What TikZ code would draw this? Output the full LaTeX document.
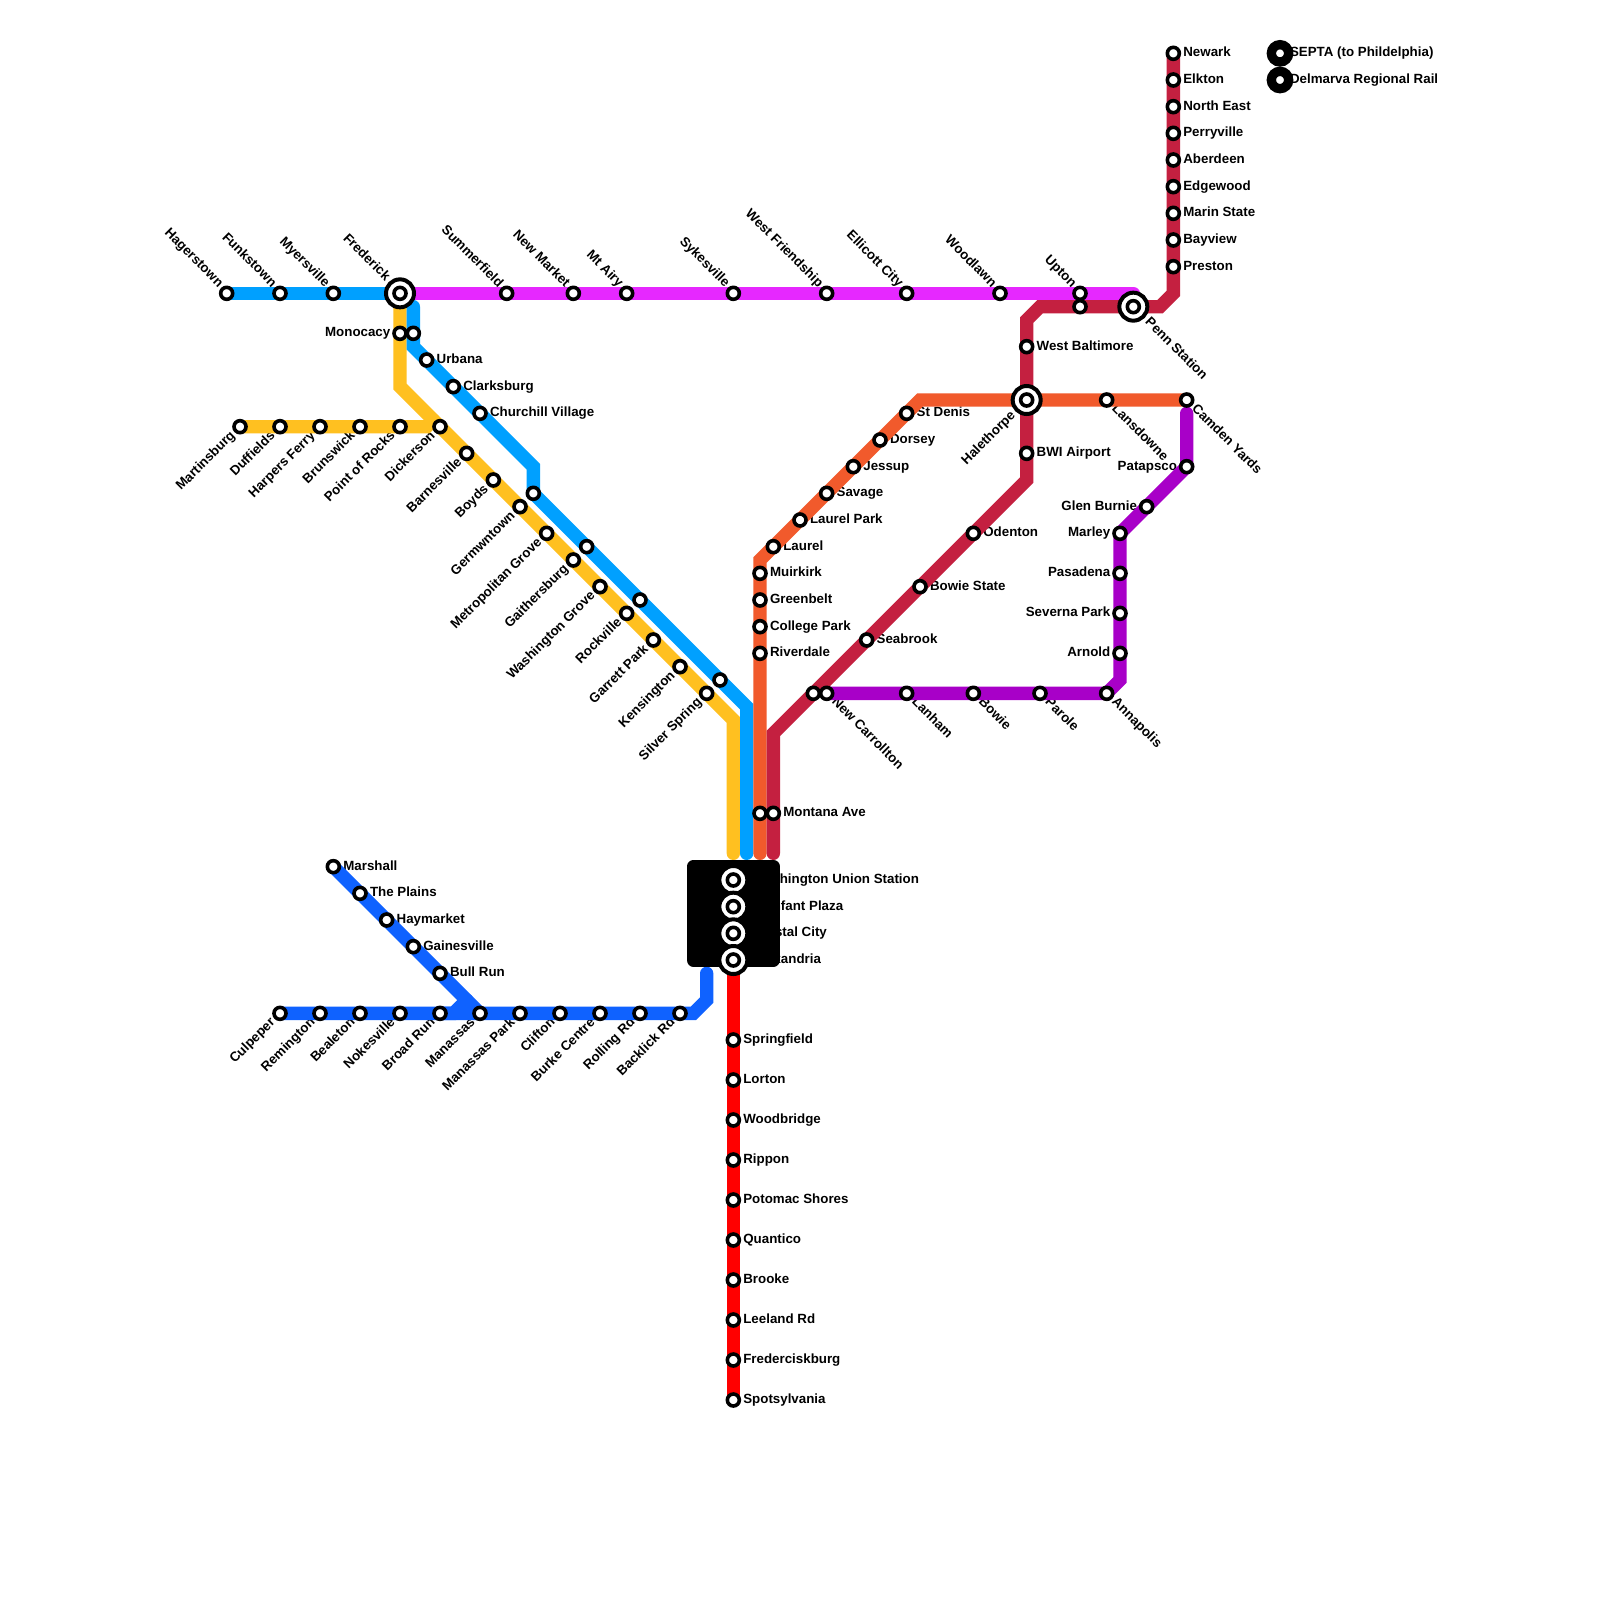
\documentclass[tikz,border=0pt]{standalone}
\usepackage{fontspec}
\setmainfont{Liberation Sans}
\usetikzlibrary{calc}
\pgfdeclarelayer{lbl}
\pgfdeclarelayer{lin}
\pgfsetlayers{lbl,lin,main}
\definecolor{cyel}{HTML}{FFC020}
\definecolor{cblu}{HTML}{00A0FF}
\definecolor{cora}{HTML}{F15A2C}
\definecolor{ccri}{HTML}{C42040}
\definecolor{cmag}{HTML}{E628FF}
\definecolor{cpur}{HTML}{A800C8}
\definecolor{cdbl}{HTML}{0F62FF}
\definecolor{cred}{HTML}{FF0000}
\tikzset{
  rail/.style={line width=13.33bp,line cap=round,line join=miter,miter limit=10},
  stn/.style={circle,draw=black,fill=white,line width=3.6bp,minimum size=12bp,inner sep=0pt,outer sep=0pt},
  icout/.style={circle,draw=black,fill=white,line width=4bp,minimum size=28bp,inner sep=0pt,outer sep=0pt},
  icin/.style={circle,draw=black,fill=white,line width=3.6bp,minimum size=12bp,inner sep=0pt,outer sep=0pt},
  legst/.style={circle,draw=black,fill=white,line width=9.33bp,minimum size=17.33bp,inner sep=0pt,outer sep=0pt},
  lbl/.style={inner sep=0pt,outer sep=0pt,font=\fontsize{13.38}{16}\selectfont\bfseries,text=black},
  blockbox/.style={draw=black,fill=black,line width=13.33bp,line join=round}
}
% name, angle, distance, baseline drop, text
\newcommand{\labW}[5]{\begin{pgfonlayer}{lbl}\node[lbl,anchor=base west,rotate=#2] (lb-#1) at ($(#1.center)+(#2:#3bp)+({#2-90}:#4bp)$) {#5};\end{pgfonlayer}}
\newcommand{\labE}[5]{\begin{pgfonlayer}{lbl}\node[lbl,anchor=base east,rotate=#2] (lb-#1) at ($(#1.center)+({#2+180}:#3bp)+({#2-90}:#4bp)$) {#5};\end{pgfonlayer}}
\newcommand{\sN}[3]{\node[stn] (#1) at (#2,#3) {};}
\newcommand{\sR}[4]{\sN{#1}{#2}{#3}\labW{#1}{0}{10}{3.4}{#4}}
\newcommand{\sL}[4]{\sN{#1}{#2}{#3}\labE{#1}{0}{9.7}{3.4}{#4}}
\newcommand{\sUL}[4]{\sN{#1}{#2}{#3}\labE{#1}{-45}{10}{2.2}{#4}}
\newcommand{\sLL}[4]{\sN{#1}{#2}{#3}\labE{#1}{45}{10}{3.8}{#4}}
\newcommand{\sLR}[4]{\sN{#1}{#2}{#3}\labW{#1}{-45}{10}{3.4}{#4}}
\newcommand{\ic}[3]{\node[icout] (#1) at (#2,#3) {};\node[icin] (#1-in) at (#2,#3) {};}
\newcommand{\rail}[3]{\begin{pgfonlayer}{lin}\draw[rail,draw=#1] (#2.center) foreach \n in {#3} {-- (\n.center)};\end{pgfonlayer}}
\begin{document}
\begin{tikzpicture}[x=13.33333bp,y=-13.33333bp]
\useasboundingbox (0,0) rectangle (120,120);
\begin{pgfonlayer}{lbl}\fill[white] (0,0) rectangle (120,120);\end{pgfonlayer}
% corners
\coordinate (cb1) at (31,23);
\coordinate (cb2) at (31,26);
\coordinate (cb3) at (40,35);
\coordinate (cb4) at (56,53);
\coordinate (cb5) at (56,64);
\coordinate (cy1) at (30,29);
\coordinate (cy2) at (55,54);
\coordinate (cy3) at (55,64);
\coordinate (cy4) at (32,32);
\coordinate (cy5) at (32.5,31.5);
\coordinate (co1) at (57,64);
\coordinate (co2) at (57,42);
\coordinate (co3) at (69,30);
\coordinate (cc1) at (58,64);
\coordinate (cc2) at (58,55);
\coordinate (cc3) at (77,36);
\coordinate (cc4) at (77,24);
\coordinate (cc5) at (78,23);
\coordinate (cc6) at (87,23);
\coordinate (cc7) at (88,22);
\coordinate (cm1) at (85,22);
\coordinate (cp1) at (89,31);
\coordinate (cp2) at (84,51);
\coordinate (cd1) at (34,76);
\coordinate (cd2) at (35,75);
\coordinate (cd3) at (52,76);
\coordinate (cd4) at (53,75);
\coordinate (cd5) at (53,73);
% interchange stations
\ic{fre}{30}{22}\labE{fre}{-45}{19}{2.2}{Frederick}
\ic{hal}{77}{30}\labE{hal}{45}{19}{3.8}{Halethorpe}
\ic{pen}{85}{23}\labW{pen}{-45}{19.5}{3.4}{Penn Station}
\ic{was}{55}{66}\labW{was}{0}{19.5}{3.4}{Washington Union Station}
\ic{lef}{55}{68}\labW{lef}{0}{19.5}{3.4}{L'Enfant Plaza}
\ic{cry}{55}{70}\labW{cry}{0}{19.5}{3.4}{Crystal City}
\ic{ale}{55}{72}\labW{ale}{0}{19.5}{3.4}{Alexandria}
% blue
\sUL{hag}{17}{22}{Hagerstown}
\sUL{fun}{21}{22}{Funkstown}
\sUL{mye}{25}{22}{Myersville}
\sN{bmo}{31}{25}
\sR{urb}{32}{27}{Urbana}
\sR{cla}{34}{29}{Clarksburg}
\sR{chu}{36}{31}{Churchill Village}
\sN{b40}{40}{37}
\sN{b44}{44}{41}
\sN{b48}{48}{45}
\sN{b54}{54}{51}
% yellow
\sL{mon}{30}{25}{Monocacy}
\sLL{mar}{18}{32}{Martinsburg}
\sLL{duf}{21}{32}{Duffields}
\sLL{har}{24}{32}{Harpers Ferry}
\sLL{bru}{27}{32}{Brunswick}
\sLL{poi}{30}{32}{Point of Rocks}
\sLL{dic}{33}{32}{Dickerson}
\sLL{bar}{35}{34}{Barnesville}
\sLL{boy}{37}{36}{Boyds}
\sLL{ger}{39}{38}{Germwntown}
\sLL{met}{41}{40}{Metropolitan Grove}
\sLL{gai}{43}{42}{Gaithersburg}
\sLL{wgr}{45}{44}{Washington Grove}
\sLL{roc}{47}{46}{Rockville}
\sLL{gar}{49}{48}{Garrett Park}
\sLL{ken}{51}{50}{Kensington}
\sLL{sil}{53}{52}{Silver Spring}
% magenta
\sUL{sum}{38}{22}{Summerfield}
\sUL{new}{43}{22}{New Market}
\sUL{mta}{47}{22}{Mt Airy}
\sUL{syk}{55}{22}{Sykesville}
\sUL{wfr}{62}{22}{West Friendship}
\sUL{ell}{68}{22}{Ellicott City}
\sUL{woo}{75}{22}{Woodlawn}
\sUL{upt}{81}{22}{Upton}
% crimson
\sN{up2}{81}{23}
\sR{nwk}{88}{4}{Newark}
\sR{elk}{88}{6}{Elkton}
\sR{nea}{88}{8}{North East}
\sR{per}{88}{10}{Perryville}
\sR{abe}{88}{12}{Aberdeen}
\sR{edg}{88}{14}{Edgewood}
\sR{mas}{88}{16}{Marin State}
\sR{bay}{88}{18}{Bayview}
\sR{pre}{88}{20}{Preston}
\sR{wba}{77}{26}{West Baltimore}
\sR{bwi}{77}{34}{BWI Airport}
\sR{ode}{73}{40}{Odenton}
\sR{bst}{69}{44}{Bowie State}
\sR{sea}{65}{48}{Seabrook}
\sN{nc1}{61}{52}
\sR{mta2}{58}{61}{Montana Ave}
% orange
\sN{mo2}{57}{61}
\sR{rvd}{57}{49}{Riverdale}
\sR{cop}{57}{47}{College Park}
\sR{grb}{57}{45}{Greenbelt}
\sR{mui}{57}{43}{Muirkirk}
\sR{lau}{58}{41}{Laurel}
\sR{lpk}{60}{39}{Laurel Park}
\sR{sav}{62}{37}{Savage}
\sR{jes}{64}{35}{Jessup}
\sR{dor}{66}{33}{Dorsey}
\sR{std}{68}{31}{St Denis}
\sLR{lan}{83}{30}{Lansdowne}
\sLR{cam}{89}{30}{Camden Yards}
% purple
\sL{pat}{89}{35}{Patapsco}
\sL{gle}{86}{38}{Glen Burnie}
\sL{mly}{84}{40}{Marley}
\sL{pas}{84}{43}{Pasadena}
\sL{sev}{84}{46}{Severna Park}
\sL{arn}{84}{49}{Arnold}
\sLR{ann}{83}{52}{Annapolis}
\sLR{prl}{78}{52}{Parole}
\sLR{bow}{73}{52}{Bowie}
\sLR{lnh}{68}{52}{Lanham}
\sLR{nc2}{62}{52}{New Carrollton}
% dark blue
\sR{msh}{25}{65}{Marshall}
\sR{pla}{27}{67}{The Plains}
\sR{hay}{29}{69}{Haymarket}
\sR{gnv}{31}{71}{Gainesville}
\sR{bul}{33}{73}{Bull Run}
\sLL{cul}{21}{76}{Culpeper}
\sLL{rem}{24}{76}{Remington}
\sLL{bea}{27}{76}{Bealeton}
\sLL{nok}{30}{76}{Nokesville}
\sLL{bro}{33}{76}{Broad Run}
\sLL{man}{36}{76}{Manassas}
\sLL{mpk}{39}{76}{Manassas Park}
\sLL{cli}{42}{76}{Clifton}
\sLL{bur}{45}{76}{Burke Centre}
\sLL{rol}{48}{76}{Rolling Rd}
\sLL{bac}{51}{76}{Backlick Rd}
% red
\sR{spr}{55}{78}{Springfield}
\sR{lor}{55}{81}{Lorton}
\sR{wdb}{55}{84}{Woodbridge}
\sR{rip}{55}{87}{Rippon}
\sR{pot}{55}{90}{Potomac Shores}
\sR{qua}{55}{93}{Quantico}
\sR{brk}{55}{96}{Brooke}
\sR{lee}{55}{99}{Leeland Rd}
\sR{fcb}{55}{102}{Frederciskburg}
\sR{spo}{55}{105}{Spotsylvania}
% legend
\node[legst] (lg1) at (96,4) {};
\node[legst] (lg2) at (96,6) {};
\labW{lg1}{0}{10}{3.4}{SEPTA (to Phildelphia)}
\labW{lg2}{0}{10}{3.4}{Delmarva Regional Rail}
% lines
\rail{cyel}{mar}{duf,har,bru,poi,cy4,cy5}
\rail{cyel}{fre}{mon,cy1,dic,bar,boy,ger,met,gai,wgr,roc,gar,ken,sil,cy2,cy3}
\rail{cblu}{hag}{fun,mye,fre}
\rail{cblu}{cb1}{bmo,cb2,urb,cla,chu,cb3,b40,b44,b48,b54,cb4,cb5}
\rail{cmag}{fre}{sum,new,mta,syk,wfr,ell,woo,upt,cm1}
\rail{cora}{co1}{mo2,rvd,cop,grb,mui,co2,lau,lpk,sav,jes,dor,std,co3,hal,lan,cam}
\rail{ccri}{nwk}{elk,nea,per,abe,edg,mas,bay,pre,cc7,cc6,pen,up2,cc5,cc4,wba,hal,bwi,cc3,ode,bst,sea,nc1,cc2,mta2,cc1}
\rail{cpur}{cp1}{pat,gle,mly,pas,sev,arn,cp2,ann,prl,bow,lnh,nc2}
\rail{cdbl}{msh}{pla,hay,gnv,bul,man}
\rail{cdbl}{cul}{rem,bea,nok,bro,cd1,cd2}
\rail{cdbl}{bro}{man,mpk,cli,bur,rol,bac,cd3,cd4,cd5}
\rail{cred}{ale}{spr,lor,wdb,rip,pot,qua,brk,lee,fcb,spo}
\begin{pgfonlayer}{lin}
\draw[blockbox] (52,65) rectangle (58,72);
\end{pgfonlayer}
\end{tikzpicture}
\end{document}
